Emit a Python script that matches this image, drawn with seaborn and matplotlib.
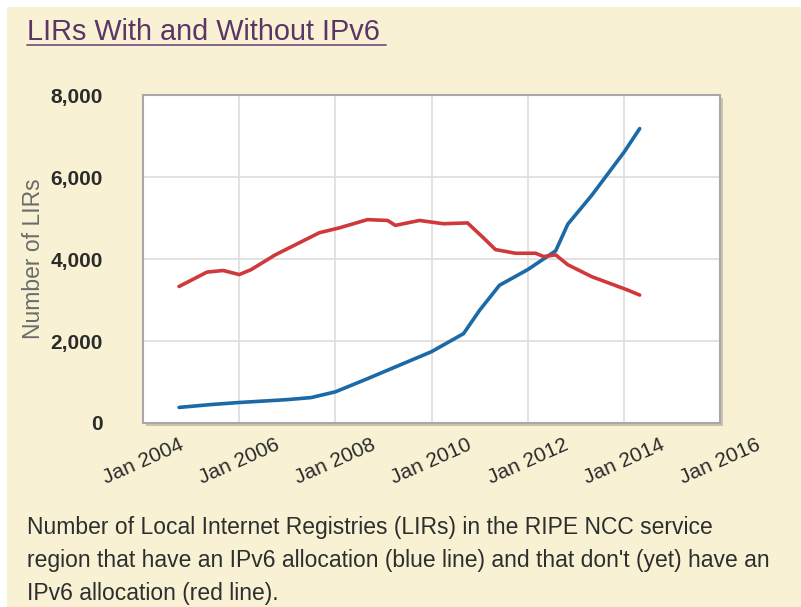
import pandas as pd
import seaborn as sns
import matplotlib.pyplot as plt
import matplotlib.dates as mdates
from matplotlib.patches import Rectangle
from matplotlib.lines import Line2D
from matplotlib.ticker import FuncFormatter

# LIRs with an IPv6 allocation (blue line)
with_dates = ["2004-10-01", "2005-06-01", "2006-01-01", "2007-01-01", "2007-07-01",
              "2008-01-01", "2008-09-01", "2009-06-01", "2010-01-01", "2010-09-01",
              "2011-01-01", "2011-06-01", "2012-01-01", "2012-08-01", "2012-11-01",
              "2013-05-01", "2014-01-01", "2014-05-01"]
with_values = [380, 450, 500, 570, 620, 760, 1080, 1450, 1740, 2180,
               2750, 3360, 3740, 4200, 4850, 5550, 6600, 7180]

# LIRs without an IPv6 allocation (red line)
without_dates = ["2004-10-01", "2005-05-01", "2005-09-01", "2006-01-01", "2006-04-01",
                 "2006-10-01", "2007-09-01", "2008-02-01", "2008-09-01", "2009-02-01",
                 "2009-04-01", "2009-10-01", "2010-04-01", "2010-10-01", "2011-02-01",
                 "2011-05-01", "2011-10-01", "2012-03-01", "2012-05-01", "2012-08-01",
                 "2012-11-01", "2013-05-01", "2014-02-01", "2014-05-01"]
without_values = [3330, 3680, 3720, 3620, 3740, 4100, 4640, 4760, 4960, 4940,
                  4820, 4940, 4860, 4880, 4510, 4230, 4140, 4140, 4060, 4100,
                  3860, 3570, 3240, 3120]

tick_years = [2004, 2006, 2008, 2010, 2012, 2014, 2016]
y_ticks = [0, 2000, 4000, 6000, 8000]

title = "LIRs With and Without IPv6"
caption_lines = ["Number of Local Internet Registries (LIRs) in the RIPE NCC service",
                 "region that have an IPv6 allocation (blue line) and that don't (yet) have an",
                 "IPv6 allocation (red line)."]

df = pd.concat([
    pd.DataFrame({"date": pd.to_datetime(with_dates), "lirs": with_values, "kind": "with"}),
    pd.DataFrame({"date": pd.to_datetime(without_dates), "lirs": without_values, "kind": "without"}),
])

sns.set_style("white")
plt.rcParams["font.family"] = ["Liberation Sans", "DejaVu Sans"]

cream = "#f8f1d3"
fig = plt.figure(figsize=(8.01, 6.07), dpi=100, facecolor="white")
W, H = 801, 607
fig.patches.append(Rectangle((7 / W, 0), 1 - 7 / W, 1 - 7 / H, transform=fig.transFigure,
                             facecolor=cream, edgecolor="none", zorder=-2))

left, right, top, bottom = 143 / W, 720 / W, 1 - 95 / H, 1 - 423 / H
# soft shadow behind the plot frame
fig.patches.append(Rectangle((left + 3 / W, bottom - 3 / H), right - left, top - bottom,
                             transform=fig.transFigure, facecolor="#c9c4b0",
                             edgecolor="none", zorder=-1))
ax = fig.add_axes([left, bottom, right - left, top - bottom])
ax.set_facecolor("white")

sns.lineplot(data=df, x="date", y="lirs", hue="kind",
             palette={"with": "#1b69a6", "without": "#d0393b"},
             linewidth=2.6, legend=False, ax=ax)

ax.set_xlim(pd.Timestamp("2004-01-01"), pd.Timestamp("2016-01-01"))
ax.set_ylim(0, 8000)
ax.set_xticks([pd.Timestamp(f"{y}-01-01") for y in tick_years])
ax.xaxis.set_major_formatter(mdates.DateFormatter("Jan %Y"))
ax.set_yticks(y_ticks)
ax.yaxis.set_major_formatter(FuncFormatter(lambda v, p: f"{int(v):,}"))
ax.grid(True, color="#dddddd", linewidth=1.2)
for s in ax.spines.values():
    s.set_color("#a8a8a8")
    s.set_linewidth(1.5)

ax.tick_params(axis="both", length=7, width=1, color="#b0b0b0", colors="#2b2b2b",
               labelsize=15)
ax.tick_params(axis="y", pad=22)
ax.tick_params(axis="x", pad=2)
for lbl in ax.get_xticklabels():
    lbl.set_rotation(24)
    lbl.set_ha("center")
for lbl in ax.get_yticklabels():
    lbl.set_fontweight("bold")

ax.set_xlabel("")
ax.set_ylabel("Number of LIRs", fontsize=16.5, color="#6b6b6b", labelpad=4)

fig.text(27 / W, 1 - 40 / H, title, fontsize=20.8, color="#5a3566", va="baseline", ha="left")
fig.lines.append(Line2D([27 / W, 386 / W], [1 - 45 / H, 1 - 45 / H],
                        transform=fig.transFigure, color="#7a5a86", linewidth=1.3))

for i, line in enumerate(caption_lines):
    fig.text(27 / W, 1 - (534 + 33 * i) / H, line, fontsize=16.5, color="#2e2e2e",
             va="baseline", ha="left")

fig.savefig("out.png", dpi=100, facecolor=fig.get_facecolor())
